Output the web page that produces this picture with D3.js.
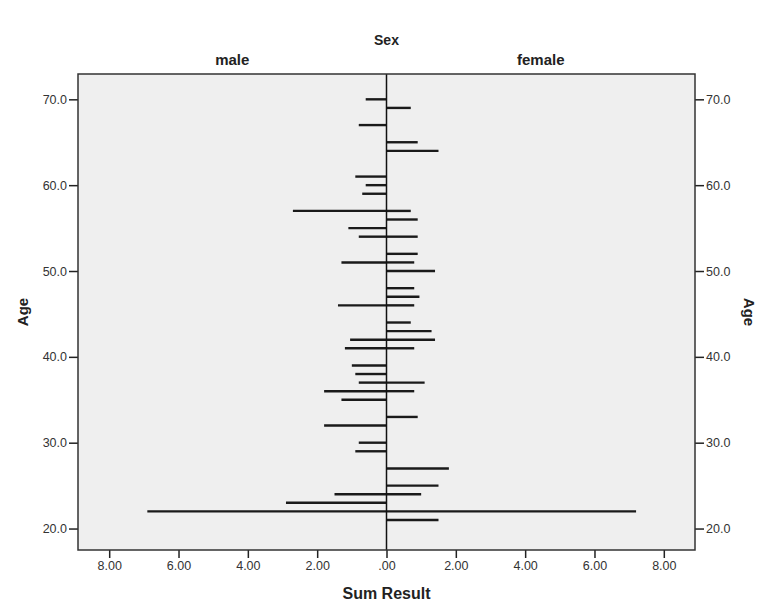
<!DOCTYPE html>
<html>
<head>
<meta charset="utf-8">
<script src="https://cdn.jsdelivr.net/npm/d3@7"></script>
<style>
  body { margin: 0; background: #fff; }
  svg { display: block; font-family: Arial, "Liberation Sans", sans-serif; }
</style>
</head>
<body>
<svg id="chart" width="757" height="608"></svg>
<script>
// Sum Result by Age, split by Sex
const maleAges = [70, 67, 61, 60, 59, 57, 55, 54, 51, 46, 42, 41, 39, 38, 37, 36, 35, 32, 30, 29, 24, 23, 22];
const maleSums = [0.6, 0.8, 0.9, 0.6, 0.7, 2.7, 1.1, 0.8, 1.3, 1.4, 1.05, 1.2, 1.0, 0.9, 0.8, 1.8, 1.3, 1.8, 0.8, 0.9, 1.5, 2.9, 6.9];
const femaleAges = [69, 65, 64, 57, 56, 54, 52, 51, 50, 48, 47, 46, 44, 43, 42, 41, 37, 36, 33, 27, 25, 24, 22, 21];
const femaleSums = [0.7, 0.9, 1.5, 0.7, 0.9, 0.9, 0.9, 0.8, 1.4, 0.8, 0.95, 0.8, 0.7, 1.3, 1.4, 0.8, 1.1, 0.8, 0.9, 1.8, 1.5, 1.0, 7.2, 1.5];
const ageTicks = [20, 30, 40, 50, 60, 70];
const sumTicks = [-8, -6, -4, -2, 0, 2, 4, 6, 8];
const panelLabels = ["male", "female"];

const width = 757;
const height = 608;
const margin = { top: 74, right: 62, bottom: 58, left: 78 };
const innerWidth = width - margin.left - margin.right;
const innerHeight = height - margin.top - margin.bottom;

const svg = d3.select("#chart");
const g = svg.append("g")
  .attr("transform", `translate(${margin.left},${margin.top})`);

// Scales
const x = d3.scaleLinear().domain([-8.9, 8.9]).range([0, innerWidth]);
const y = d3.scaleLinear().domain([17.5, 72.95]).range([innerHeight, 0]);

// Plot background
g.append("rect")
  .attr("width", innerWidth)
  .attr("height", innerHeight)
  .attr("fill", "#efefef");

// Axes
const fmtSum = (d) => {
  const s = d3.format(".2f")(Math.abs(d));
  return s.startsWith("0") ? s.slice(1) : s;
};
const styleAxis = (sel) => {
  sel.select(".domain").remove();
  sel.selectAll(".tick line").attr("stroke", "#222").attr("stroke-width", 1.5);
  sel.selectAll(".tick text")
    .attr("fill", "#333")
    .style("font-size", "12.5px");
};

g.append("g")
  .attr("transform", `translate(0,${innerHeight})`)
  .call(d3.axisBottom(x).tickValues(sumTicks).tickFormat(fmtSum).tickSizeOuter(0).tickSize(8).tickPadding(3))
  .call(styleAxis);

g.append("g")
  .call(d3.axisLeft(y).tickValues(ageTicks).tickFormat(d3.format(".1f")).tickSize(9).tickPadding(2))
  .call(styleAxis);

g.append("g")
  .attr("transform", `translate(${innerWidth},0)`)
  .call(d3.axisRight(y).tickValues(ageTicks).tickFormat(d3.format(".1f")).tickSize(9).tickPadding(2))
  .call(styleAxis);

// Bars: male to the left, female to the right
const male = maleAges.map((a, i) => ({ age: a, value: -maleSums[i] }));
const female = femaleAges.map((a, i) => ({ age: a, value: femaleSums[i] }));

g.selectAll(".bar")
  .data(male.concat(female))
  .enter()
  .append("line")
  .attr("class", "bar")
  .attr("x1", x(0))
  .attr("x2", (d) => x(d.value))
  .attr("y1", (d) => y(d.age))
  .attr("y2", (d) => y(d.age))
  .attr("stroke", "#1a1a1a")
  .attr("stroke-width", 2.4);

// Zero line splitting the panels
g.append("line")
  .attr("x1", x(0)).attr("x2", x(0))
  .attr("y1", 0).attr("y2", innerHeight)
  .attr("stroke", "#111")
  .attr("stroke-width", 1.5);

// Frame
g.append("rect")
  .attr("width", innerWidth)
  .attr("height", innerHeight)
  .attr("fill", "none")
  .attr("stroke", "#333")
  .attr("stroke-width", 1.5);

// Titles
svg.append("text")
  .attr("x", margin.left + x(0))
  .attr("y", 45)
  .attr("text-anchor", "middle")
  .style("font-size", "14px")
  .style("font-weight", "bold")
  .attr("fill", "#222")
  .text("Sex");

svg.selectAll(".panel-label")
  .data(panelLabels)
  .enter()
  .append("text")
  .attr("class", "panel-label")
  .attr("x", (d, i) => margin.left + (i === 0 ? x(0) / 2 : (x(0) + innerWidth) / 2))
  .attr("y", 65)
  .attr("text-anchor", "middle")
  .style("font-size", "15px")
  .style("font-weight", "bold")
  .attr("fill", "#222")
  .text((d) => d);

svg.append("text")
  .attr("x", margin.left + x(0))
  .attr("y", 599)
  .attr("text-anchor", "middle")
  .style("font-size", "16px")
  .style("font-weight", "bold")
  .attr("fill", "#222")
  .text("Sum Result");

svg.append("text")
  .attr("transform", `translate(28,${margin.top + innerHeight / 2}) rotate(-90)`)
  .attr("text-anchor", "middle")
  .style("font-size", "15px")
  .style("font-weight", "bold")
  .attr("fill", "#222")
  .text("Age");

svg.append("text")
  .attr("transform", `translate(744,${margin.top + innerHeight / 2}) rotate(90)`)
  .attr("text-anchor", "middle")
  .style("font-size", "15px")
  .style("font-weight", "bold")
  .attr("fill", "#222")
  .text("Age");
</script>
</body>
</html>
